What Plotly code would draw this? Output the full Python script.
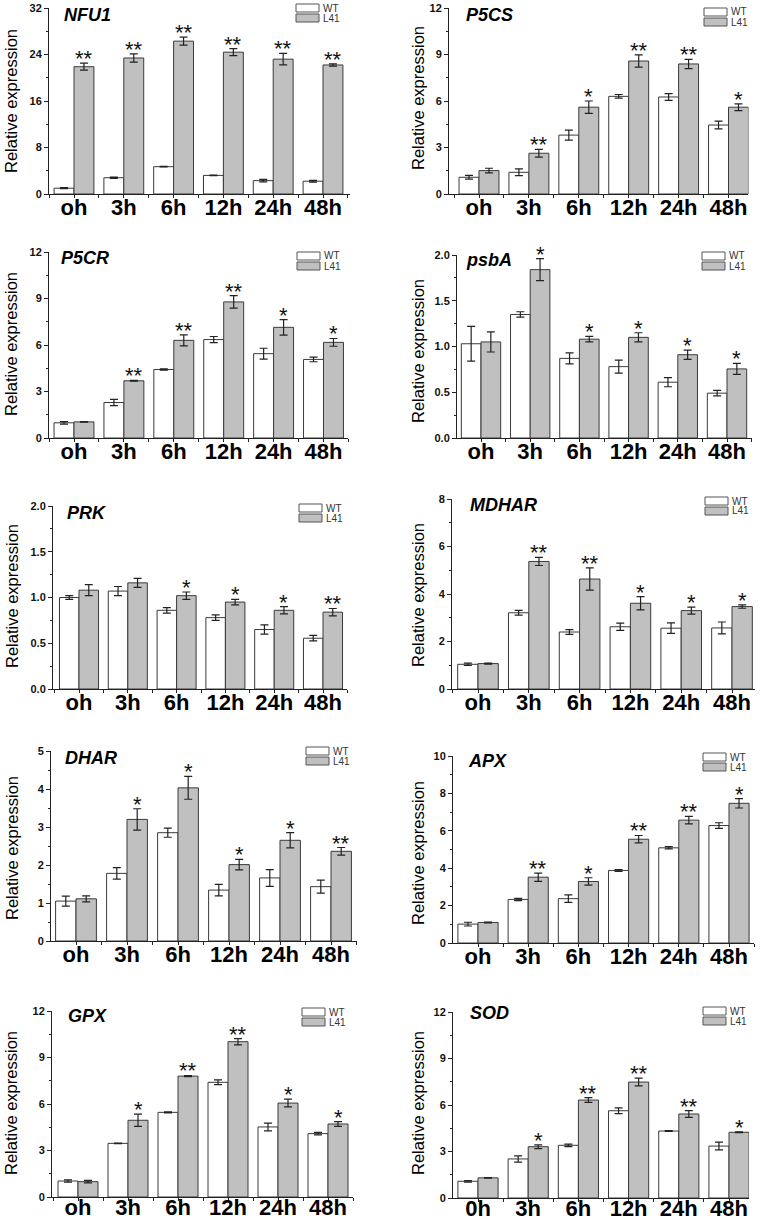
import plotly.graph_objects as go

# ---------------- data ----------------
categories = ["oh", "3h", "6h", "12h", "24h", "48h"]
categories_sod = ["0h", "3h", "6h", "12h", "24h", "48h"]
series_names = ["WT", "L41"]

nfu1_wt = [1.0, 2.8, 4.7, 3.2, 2.3, 2.2]
nfu1_wt_err = [0.1, 0.1, 0.05, 0.05, 0.2, 0.15]
nfu1_l41 = [21.9, 23.4, 26.3, 24.4, 23.2, 22.2]
nfu1_l41_err = [0.6, 0.7, 0.7, 0.6, 1.0, 0.2]
nfu1_sig = ["**", "**", "**", "**", "**", "**"]

p5cs_wt = [1.08, 1.4, 3.8, 6.3, 6.26, 4.45]
p5cs_wt_err = [0.12, 0.22, 0.32, 0.12, 0.22, 0.25]
p5cs_l41 = [1.51, 2.63, 5.6, 8.58, 8.39, 5.6]
p5cs_l41_err = [0.15, 0.25, 0.4, 0.4, 0.3, 0.22]
p5cs_sig = ["", "**", "*", "**", "**", "*"]

p5cr_wt = [0.98, 2.29, 4.42, 6.35, 5.44, 5.07]
p5cr_wt_err = [0.08, 0.2, 0.04, 0.2, 0.35, 0.15]
p5cr_l41 = [1.04, 3.69, 6.3, 8.78, 7.14, 6.17]
p5cr_l41_err = [0.02, 0.03, 0.35, 0.4, 0.5, 0.25]
p5cr_sig = ["", "**", "**", "**", "*", "*"]

psba_wt = [1.03, 1.35, 0.87, 0.78, 0.61, 0.49]
psba_wt_err = [0.19, 0.03, 0.06, 0.07, 0.05, 0.03]
psba_l41 = [1.05, 1.84, 1.08, 1.1, 0.91, 0.755]
psba_l41_err = [0.11, 0.12, 0.03, 0.05, 0.05, 0.06]
psba_sig = ["", "*", "*", "*", "*", "*"]

prk_wt = [1.0, 1.07, 0.86, 0.78, 0.65, 0.555]
prk_wt_err = [0.02, 0.05, 0.03, 0.03, 0.05, 0.03]
prk_l41 = [1.08, 1.16, 1.02, 0.95, 0.86, 0.84]
prk_l41_err = [0.06, 0.05, 0.04, 0.03, 0.04, 0.04]
prk_sig = ["", "", "*", "*", "*", "**"]

mdhar_wt = [1.04, 3.21, 2.4, 2.62, 2.56, 2.57]
mdhar_wt_err = [0.05, 0.1, 0.1, 0.15, 0.22, 0.25]
mdhar_l41 = [1.07, 5.37, 4.63, 3.61, 3.3, 3.47]
mdhar_l41_err = [0.02, 0.17, 0.47, 0.28, 0.15, 0.07]
mdhar_sig = ["", "**", "**", "*", "*", "*"]

dhar_wt = [1.05, 1.78, 2.85, 1.34, 1.66, 1.43]
dhar_wt_err = [0.13, 0.15, 0.12, 0.15, 0.22, 0.17]
dhar_l41 = [1.11, 3.2, 4.03, 2.01, 2.65, 2.36]
dhar_l41_err = [0.08, 0.28, 0.3, 0.14, 0.2, 0.1]
dhar_sig = ["", "*", "*", "*", "*", "**"]

apx_wt = [1.01, 2.33, 2.37, 3.88, 5.09, 6.28]
apx_wt_err = [0.1, 0.06, 0.2, 0.05, 0.06, 0.15]
apx_l41 = [1.1, 3.52, 3.29, 5.55, 6.57, 7.47]
apx_l41_err = [0.02, 0.22, 0.2, 0.2, 0.2, 0.25]
apx_sig = ["", "**", "*", "**", "**", "*"]

gpx_wt = [1.03, 3.46, 5.46, 7.4, 4.52, 4.09]
gpx_wt_err = [0.07, 0.02, 0.03, 0.15, 0.25, 0.08]
gpx_l41 = [0.99, 4.95, 7.8, 10.02, 6.06, 4.71]
gpx_l41_err = [0.08, 0.4, 0.04, 0.2, 0.25, 0.15]
gpx_sig = ["", "*", "**", "**", "*", "*"]

sod_wt = [1.08, 2.52, 3.4, 5.63, 4.32, 3.35]
sod_wt_err = [0.05, 0.2, 0.08, 0.18, 0.03, 0.25]
sod_l41 = [1.3, 3.31, 6.32, 7.48, 5.42, 4.24]
sod_l41_err = [0.02, 0.12, 0.15, 0.25, 0.22, 0.03]
sod_sig = ["", "*", "**", "**", "**", "*"]

panels_data = [
    ("NFU1", categories, nfu1_wt, nfu1_wt_err, nfu1_l41, nfu1_l41_err, nfu1_sig),
    ("P5CS", categories, p5cs_wt, p5cs_wt_err, p5cs_l41, p5cs_l41_err, p5cs_sig),
    ("P5CR", categories, p5cr_wt, p5cr_wt_err, p5cr_l41, p5cr_l41_err, p5cr_sig),
    ("psbA", categories, psba_wt, psba_wt_err, psba_l41, psba_l41_err, psba_sig),
    ("PRK", categories, prk_wt, prk_wt_err, prk_l41, prk_l41_err, prk_sig),
    ("MDHAR", categories, mdhar_wt, mdhar_wt_err, mdhar_l41, mdhar_l41_err, mdhar_sig),
    ("DHAR", categories, dhar_wt, dhar_wt_err, dhar_l41, dhar_l41_err, dhar_sig),
    ("APX", categories, apx_wt, apx_wt_err, apx_l41, apx_l41_err, apx_sig),
    ("GPX", categories, gpx_wt, gpx_wt_err, gpx_l41, gpx_l41_err, gpx_sig),
    ("SOD", categories_sod, sod_wt, sod_wt_err, sod_l41, sod_l41_err, sod_sig),
]

# ---------------- layout geometry (pixels) ----------------
W, H = 762, 1221
geom = [
    dict(x0=49, c0=74, s=49.8, xr=5.55, yt=8, yb=194, ymax=32, dt=8, fmt="d"),
    dict(x0=449, c0=479, s=49.9, xr=5.4, yt=8, yb=194, ymax=12, dt=3, fmt="d"),
    dict(x0=49, c0=74, s=49.9, xr=5.5, yt=252, yb=438, ymax=12, dt=3, fmt="d"),
    dict(x0=457, c0=481, s=49.2, xr=5.5, yt=255, yb=438, ymax=2.0, dt=0.5, fmt=".1f"),
    dict(x0=53, c0=79, s=48.8, xr=5.5, yt=506, yb=689, ymax=2.0, dt=0.5, fmt=".1f"),
    dict(x0=452, c0=478, s=50.8, xr=5.45, yt=499, yb=689, ymax=8, dt=2, fmt="d"),
    dict(x0=51, c0=76, s=51.0, xr=5.5, yt=751, yb=941, ymax=5, dt=1, fmt="d"),
    dict(x0=453, c0=478, s=50.2, xr=5.5, yt=756, yb=943, ymax=10, dt=2, fmt="d"),
    dict(x0=52, c0=78, s=50.0, xr=5.5, yt=1011, yb=1197, ymax=12, dt=3, fmt="d"),
    dict(x0=453, c0=478, s=50.2, xr=5.4, yt=1012, yb=1198, ymax=12, dt=3, fmt="d"),
]
label_standoff = [-9, -9, -9, -9, -9, -9, -9, -9, -12, -12]
legend_pos = [(296, 4), (704, 8), (297, 252), (702, 252), (299, 504),
              (705, 497), (306, 747), (703, 753), (302, 1008), (703, 1007)]
title_pos = [(62, 15), (464, 15), (59, 258), (464, 260), (65, 513),
             (468, 505), (63, 758), (466, 761), (66, 1016), (468, 1013)]
ytitle_pos = [(11, 101), (418, 98), (11, 344), (418, 351), (12, 596),
              (418, 595), (12, 848), (418, 853), (11, 1103), (418, 1103)]

FONT = "Liberation Sans, Arial, sans-serif"
FILLS = {"WT": "#ffffff", "L41": "#c0c0c0"}
EDGE = "#3a3a3a"

fig = go.Figure()
annotations = []
shapes = []

for k, (gene, cats, wt, wt_e, l41, l41_e, sig) in enumerate(panels_data):
    g = geom[k]
    n = k + 1
    xa = "x" if n == 1 else f"x{n}"
    ya = "y" if n == 1 else f"y{n}"
    idx = list(range(len(cats)))
    for name, vals, errs in [("WT", wt, wt_e), ("L41", l41, l41_e)]:
        fig.add_trace(go.Bar(
            x=idx, y=vals, name=name, xaxis=xa, yaxis=ya,
            marker=dict(color=FILLS[name], line=dict(color=EDGE, width=1)),
            error_y=dict(type="data", array=errs, visible=True,
                         color="#222222", thickness=1.2, width=4),
            offsetgroup=name, showlegend=False,
        ))
    # significance stars above L41 bars
    for i, s in enumerate(sig):
        if s:
            annotations.append(dict(
                x=i + 0.2, y=l41[i] + l41_e[i], xref=xa, yref=ya,
                text=s, showarrow=False, yanchor="bottom", xanchor="center",
                yshift=-10, font=dict(family=FONT, size=22, color="#111111"),
            ))
    xl = (g["x0"] - g["c0"]) / g["s"]
    xend_px = g["c0"] + g["xr"] * g["s"]
    axkey = "xaxis" if n == 1 else f"xaxis{n}"
    aykey = "yaxis" if n == 1 else f"yaxis{n}"
    fig.layout[axkey] = dict(
        domain=[g["x0"] / W, xend_px / W], range=[xl, g["xr"]], anchor=ya,
        automargin=False, ticklabelstandoff=label_standoff[k],
        tickmode="array", tickvals=idx, ticktext=cats,
        showline=True, linecolor="#222222", linewidth=1,
        ticks="outside", ticklen=3, tickcolor="#222222",
        minor=dict(ticks="outside", ticklen=3, tick0=-0.5, dtick=1, tickcolor="#222222"),
        showgrid=False, zeroline=False, fixedrange=True,
        tickfont=dict(family=FONT, size=22, color="#000000", weight="bold"),
    )
    fig.layout[aykey] = dict(
        domain=[1 - g["yb"] / H, 1 - g["yt"] / H], range=[0, g["ymax"]], anchor=xa,
        automargin=False,
        tickmode="linear", tick0=0, dtick=g["dt"], tickformat=g["fmt"],
        showline=True, linecolor="#222222", linewidth=1,
        ticks="outside", ticklen=4, tickcolor="#222222",
        minor=dict(ticks="outside", ticklen=2, dtick=g["dt"] / 2, tickcolor="#222222"),
        showgrid=False, zeroline=False, fixedrange=True,
        tickfont=dict(family=FONT, size=11, color="#111111", weight="bold"),
    )
    # legend (WT / L41 swatches)
    lx, ly = legend_pos[k]
    for j, name in enumerate(series_names):
        top = ly + j * 10
        shapes.append(dict(
            type="rect", xref="paper", yref="paper",
            x0=lx / W, x1=(lx + 23) / W, y0=1 - (top + 8) / H, y1=1 - top / H,
            fillcolor=FILLS[name], line=dict(color="#555555", width=1),
        ))
        annotations.append(dict(
            x=(lx + 25) / W, y=1 - (top + 4) / H, xref="paper", yref="paper",
            text=name, showarrow=False, xanchor="left", yanchor="middle",
            font=dict(family=FONT, size=10, color="#333333"),
        ))
    tx, ty = title_pos[k]
    annotations.append(dict(
        x=tx / W, y=1 - ty / H, xref="paper", yref="paper",
        text=f"<b><i>{gene}</i></b>", showarrow=False,
        xanchor="left", yanchor="middle",
        font=dict(family=FONT, size=18, color="#000000"),
    ))
    yx, yy = ytitle_pos[k]
    annotations.append(dict(
        x=yx / W, y=1 - yy / H, xref="paper", yref="paper",
        text="Relative expression", showarrow=False, textangle=-90,
        xanchor="center", yanchor="middle",
        font=dict(family=FONT, size=16.5, color="#000000"),
    ))

fig.update_layout(
    width=W, height=H, margin=dict(l=0, r=0, t=0, b=0, autoexpand=False),
    paper_bgcolor="white", plot_bgcolor="white",
    barmode="group", bargap=0.2, bargroupgap=0,
    annotations=annotations, shapes=shapes, showlegend=False,
    font=dict(family=FONT),
)

fig.write_html(
    "out.html",
    config={"displayModeBar": False},
    post_script="document.body.style.margin='0';document.body.style.padding='0';document.body.style.overflow='hidden';",
)
